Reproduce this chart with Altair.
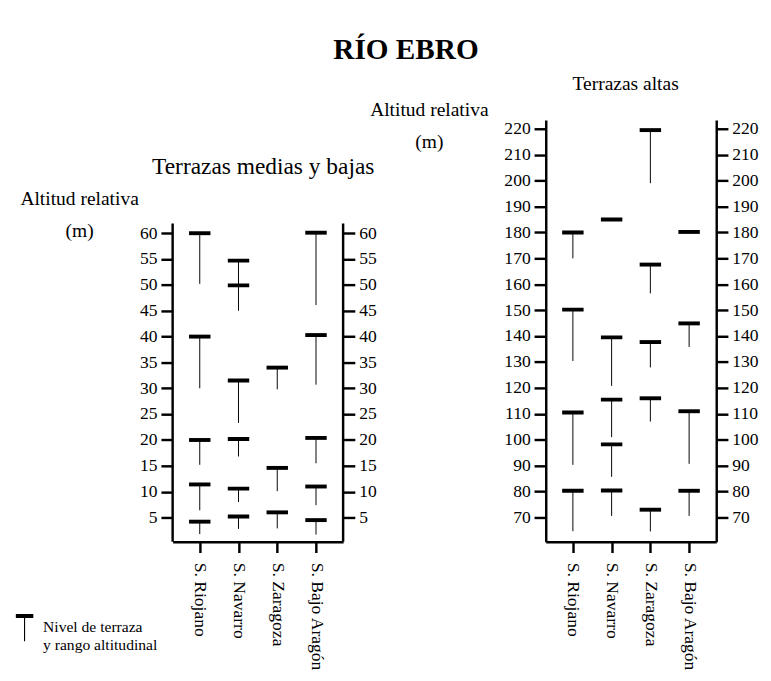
import altair as alt
import pandas as pd

FONT = "Liberation Serif"
cats = ["S. Riojano", "S. Navarro", "S. Zaragoza", "S. Bajo Aragón"]

# Terrazas medias y bajas: nivel de terraza y mínimo del rango altitudinal (m)
mb_serie = ["S. Riojano"] * 5 + ["S. Navarro"] * 6 + ["S. Zaragoza"] * 3 + ["S. Bajo Aragón"] * 5
mb_nivel = [60, 40, 20, 11.4, 4.2,
            54.7, 49.9, 31.5, 20.2, 10.6, 5.2,
            34, 14.6, 6,
            60.1, 40.3, 20.4, 11, 4.5]
mb_min = [50.2, 30, 15.2, 6.4, 1.8,
          49.9, 45, 23.3, 16.8, 8, 2.8,
          29.8, 10.1, 2.9,
          46.1, 30.7, 15.5, 7.4, 1.7]
mb_ticks = [5, 10, 15, 20, 25, 30, 35, 40, 45, 50, 55, 60]

# Terrazas altas
al_serie = ["S. Riojano"] * 4 + ["S. Navarro"] * 5 + ["S. Zaragoza"] * 5 + ["S. Bajo Aragón"] * 4
al_nivel = [180, 150.2, 110.5, 80.3,
            185, 139.5, 115.5, 98.2, 80.4,
            219.5, 167.6, 137.7, 116, 73,
            180.2, 144.9, 111, 80.3]
al_min = [170, 130.4, 90.3, 64.7,
          185, 120.8, 101, 85.7, 70.6,
          199, 156.5, 127.9, 107, 64.6,
          180.2, 135.8, 90.7, 70.6]
al_ticks = [70, 80, 90, 100, 110, 120, 130, 140, 150, 160, 170, 180, 190, 200, 210, 220]

leyenda = "Nivel de terraza y rango altitudinal"
W, H = 175, 433

xenc = alt.X("serie:N", sort=cats,
             scale=alt.Scale(type="point", domain=cats, padding=0.7),
             axis=alt.Axis(title=None, labelAngle=90, labelAlign="left", labelBaseline="middle",
                           labelPadding=10, tickSize=11, tickWidth=2.5, domainWidth=2.5,
                           labelFontSize=18, grid=False))


def yaxis(values, orient, title=None, tx=0, ty=0, domain=False):
    kw = dict(values=values, orient=orient, domain=domain, domainWidth=2.5, tickSize=12, tickWidth=2.5,
              labelFontSize=18, labelPadding=4, grid=False, labelFlush=False, labelOverlap=False)
    if title is not None:
        kw.update(title=title, titleAngle=0, titleAlign="center", titleBaseline="alphabetic",
                  titleX=tx, titleY=ty, titleLineHeight=33, titleFontSize=20, titleFontWeight="normal")
    else:
        kw.update(title=None)
    return alt.Axis(**kw)


LEG_PATH = "M-0.64,-1H0.64V-0.7H-0.64Z M-0.04,-0.7H0.04V1H-0.04Z"
subtitle_size = {"Terrazas medias y bajas": 24, "Terrazas altas": 20}


def panel(serie, nivel, vmin, ticks, dom, axis_line, ytitle, tx, ty, subtitle, sx, sy, with_legend):
    df = pd.DataFrame({"serie": serie, "nivel": nivel, "min": vmin, "leyenda": leyenda})
    sc = alt.Scale(domain=dom, nice=False, zero=False)
    enc = dict(x=xenc,
               y=alt.Y("nivel:Q", scale=sc,
                       axis=yaxis(ticks, "left", ytitle, tx, ty, domain=axis_line is None)))
    if with_legend:
        enc["color"] = alt.Color(
            "leyenda:N", scale=alt.Scale(range=["black"]),
            legend=alt.Legend(title=None, orient="none", legendX=-166, legendY=507,
                              symbolType=LEG_PATH, symbolSize=784, symbolFillColor="black",
                              symbolStrokeWidth=0, symbolOpacity=1,
                              labelExpr="['Nivel de terraza', 'y rango altitudinal']",
                              labelFontSize=16, labelOffset=5, padding=0, labelLimit=0))
    tick_layer = alt.Chart(df).mark_tick(thickness=4, size=22, color="black", opacity=1).encode(**enc)
    rule_layer = alt.Chart(df).mark_rule(strokeWidth=1, color="black").encode(
        x=xenc,
        y=alt.Y("nivel:Q", scale=sc, axis=yaxis(ticks, "right", domain=axis_line is None)),
        y2="min:Q")
    layers = [tick_layer, rule_layer]
    if axis_line is not None:
        ldf = pd.DataFrame({"a": [axis_line[0]], "b": [axis_line[1]]})
        for xv in (0, W):
            layers.append(alt.Chart(ldf).mark_rule(strokeWidth=2.5, color="black").encode(
                x=alt.value(xv), y=alt.Y("a:Q", scale=sc, axis=None), y2="b:Q"))
    tdf = pd.DataFrame({"t": [subtitle]})
    layers.append(alt.Chart(tdf).mark_text(fontSize=subtitle_size[subtitle], align="center",
                                           baseline="alphabetic", color="black").encode(
        x=alt.value(sx), y=alt.value(sy), text="t:N"))
    return alt.layer(*layers).resolve_axis(y="independent").properties(width=W, height=H)


left = panel(mb_serie, mb_nivel, mb_min, mb_ticks, [0.3, 81.9], (0.3, 61.9),
             ["Altitud relativa", "(m)"], -96, 87,
             "Terrazas medias y bajas", 93, 55, True)
right = panel(al_serie, al_nivel, al_min, al_ticks, [60.6, 223.4], None,
              ["Altitud relativa", "(m)"], -120, -5,
              "Terrazas altas", 82, -31, False)

chart = alt.hconcat(left, right, spacing=208, bounds="flush").properties(
    title=alt.TitleParams("RÍO EBRO", fontSize=30, fontWeight="bold", anchor="middle", offset=10, dx=22),
    background="white",
    padding={"left": 3, "top": 19, "right": 5, "bottom": 5},
).configure(font=FONT).configure_view(stroke=None).configure_axis(
    labelFont=FONT, titleFont=FONT, domainColor="black", tickColor="black",
    labelColor="black", titleColor="black"
).configure_text(font=FONT).configure_legend(labelFont=FONT, labelColor="black").configure_title(
    font=FONT, color="black")

chart.save("out.html", embed_options={"renderer": "svg", "actions": False})
